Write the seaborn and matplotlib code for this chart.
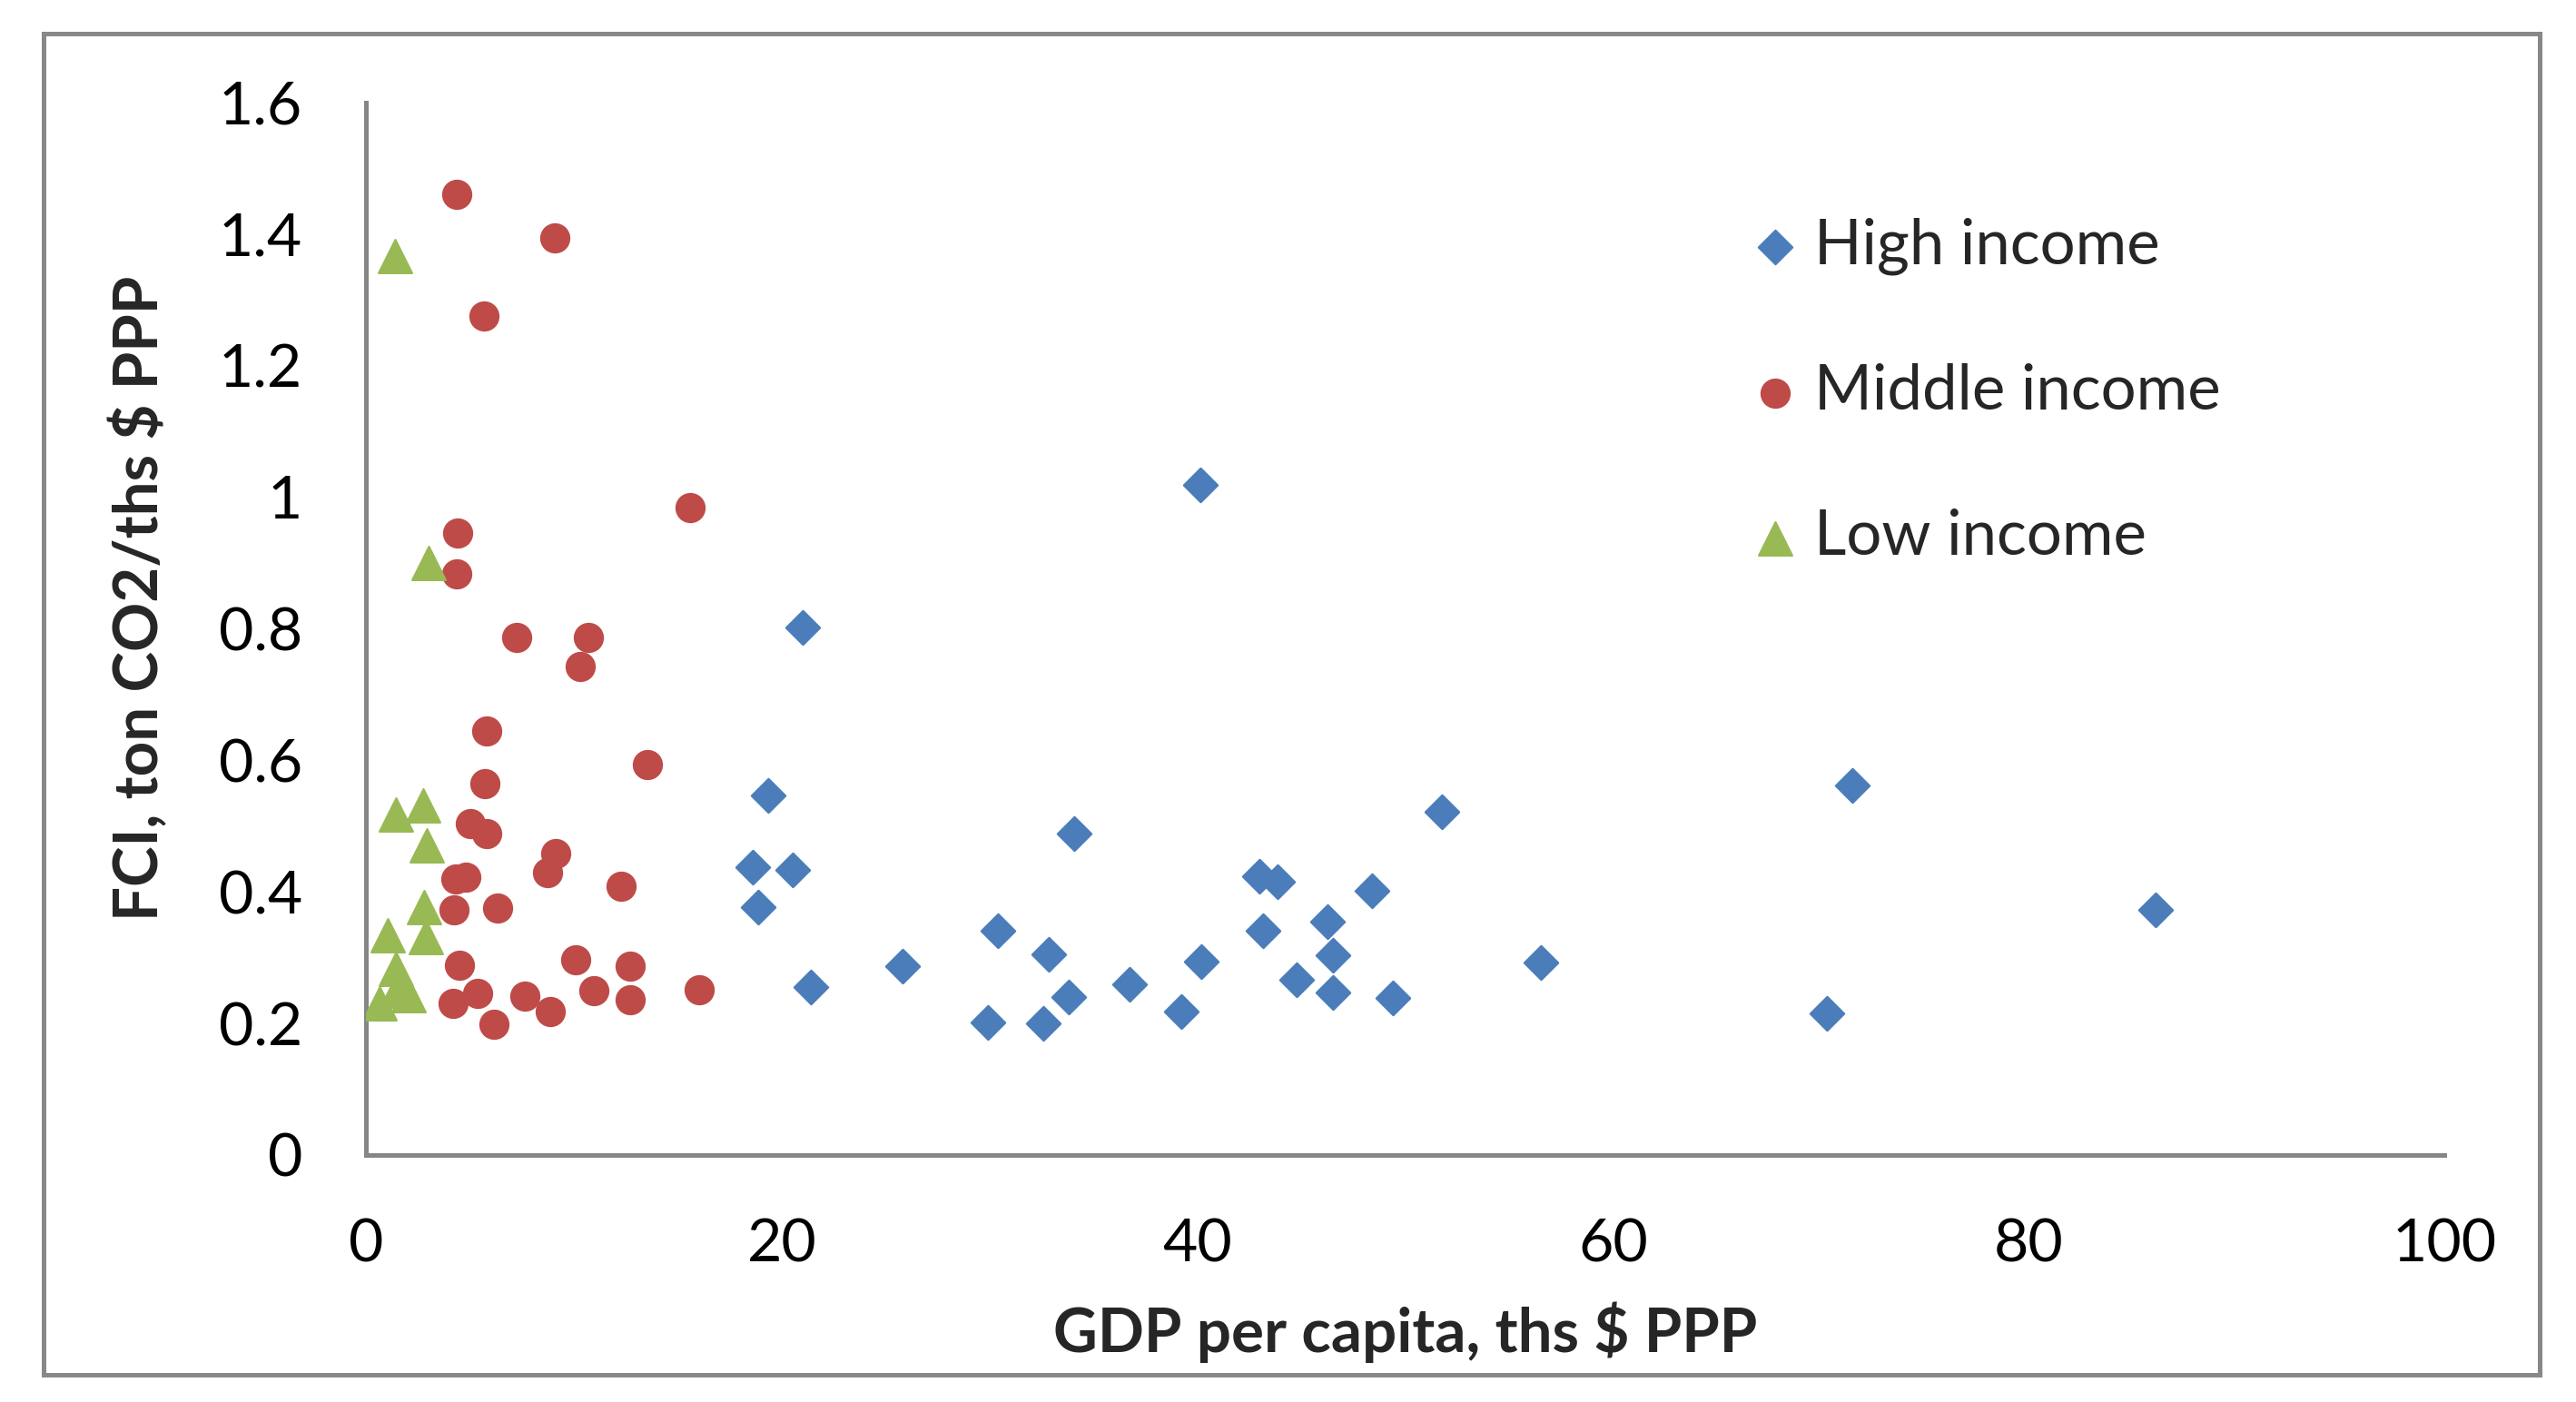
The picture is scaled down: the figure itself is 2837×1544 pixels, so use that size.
import numpy as np
import pandas as pd
import matplotlib
matplotlib.use("Agg")
import matplotlib.pyplot as plt
import seaborn as sns
from matplotlib.patches import Rectangle
from matplotlib.ticker import MultipleLocator, FormatStrFormatter

# values
high_x = [21.01, 19.35, 18.61, 20.55, 18.87, 21.41, 25.8, 29.91, 30.42, 32.59,
          32.84, 33.81, 34.09, 36.74, 39.22, 40.13, 40.18, 43.00, 43.15, 43.88,
          44.77, 46.25, 46.51, 46.51, 48.40, 49.40, 51.78, 56.55, 70.3, 71.5, 86.1]
high_y = [0.802, 0.547, 0.438, 0.434, 0.377, 0.255, 0.287, 0.202, 0.341, 0.200,
          0.305, 0.240, 0.489, 0.259, 0.218, 1.018, 0.294, 0.424, 0.341, 0.416,
          0.267, 0.355, 0.304, 0.247, 0.402, 0.239, 0.522, 0.292, 0.215, 0.562, 0.372]

mid_x = [4.38, 9.07, 5.68, 15.58, 4.41, 4.36, 7.27, 10.69, 10.30, 5.80,
         13.54, 5.71, 5.04, 5.82, 9.14, 8.75, 12.29, 4.34, 4.82, 4.22,
         6.33, 4.49, 10.10, 12.70, 10.97, 12.73, 16.05, 4.19, 5.37, 7.66,
         8.86, 6.17]
mid_y = [1.460, 1.394, 1.275, 0.984, 0.946, 0.883, 0.787, 0.786, 0.743, 0.645,
         0.594, 0.565, 0.504, 0.488, 0.458, 0.429, 0.408, 0.419, 0.422, 0.372,
         0.376, 0.289, 0.297, 0.287, 0.250, 0.236, 0.251, 0.231, 0.245, 0.242,
         0.218, 0.199]

low_x = [1.40, 3.00, 1.44, 2.77, 2.94, 2.80, 1.05, 2.87, 1.44, 1.50, 2.05, 0.67]
low_y = [1.367, 0.900, 0.517, 0.531, 0.470, 0.377, 0.334, 0.331, 0.283, 0.250, 0.243, 0.230]

group_names = ["High income", "Middle income", "Low income"]

sns.set_style("white")
plt.rcParams['font.family'] = ['Lato', 'DejaVu Sans']

fig = plt.figure(figsize=(14.185, 7.72), dpi=200)
ax = fig.add_axes([0.14205, 0.17617, 0.80684, 0.75084])

gray = "#868686"
styles = [("D", "#4a7dba", 90), ("o", "#be4b48", 125), ("^", "#98b954", 175)]
series = [(high_x, high_y), (mid_x, mid_y), (low_x, low_y)]

for name, (xs, ys), (mk, col, sz) in zip(group_names, series, styles):
    df = pd.DataFrame({"gdp": xs, "fci": ys})
    sns.scatterplot(data=df, x="gdp", y="fci", ax=ax, marker=mk, color=col,
                    s=sz, edgecolor=col, linewidth=0.8, label=name, zorder=3)

ax.set_xlim(0, 100)
ax.set_ylim(0, 1.6)
ax.xaxis.set_major_locator(MultipleLocator(20))
ax.yaxis.set_major_locator(MultipleLocator(0.2))
ax.yaxis.set_major_formatter(FormatStrFormatter('%g'))

for side in ["top", "right"]:
    ax.spines[side].set_visible(False)
for side in ["left", "bottom"]:
    ax.spines[side].set_color(gray)
    ax.spines[side].set_linewidth(1.8)

ax.tick_params(axis="both", direction="out", length=8.6, width=1.8, color=gray,
               labelsize=23.8, pad=16.5, labelcolor="black")

ax.set_xlabel("GDP per capita, ths $ PPP", fontsize=24.2, fontweight="bold")
ax.set_ylabel("FCI, ton CO2/ths $ PPP", fontsize=24.2, fontweight="bold")
ax.xaxis.set_label_coords(0.5, -0.1395)
ax.yaxis.set_label_coords(-0.0945, 0.5288)

ax.legend(loc="upper left", bbox_to_anchor=(0.663, 0.891), frameon=False,
          borderpad=0, borderaxespad=0, handlelength=1.0, handletextpad=0.12,
          labelspacing=1.41, fontsize=24.8)

# grey frame around the whole chart area
frame = Rectangle((0.0168, 0.0194), 0.9691, 0.9568, transform=fig.transFigure,
                  fill=False, edgecolor="#888888", linewidth=1.8)
fig.add_artist(frame)

fig.savefig("out.png", dpi=200)
